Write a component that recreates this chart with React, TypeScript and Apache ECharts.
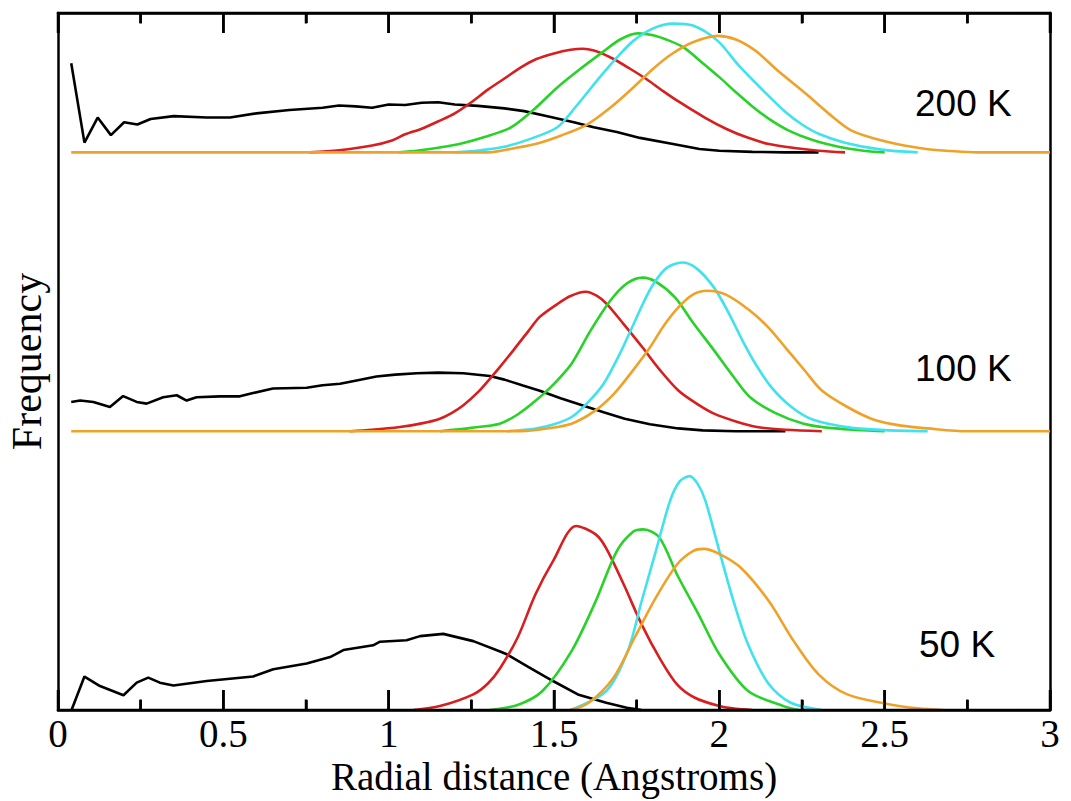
import React, { useEffect, useRef } from "react";
import * as echarts from "echarts";

// x ticks / axis range
const xTicks = [0, 0.5, 1, 1.5, 2, 2.5, 3];
const minorTickValues = [0.25, 0.75, 1.25, 1.75, 2.25, 2.75];
const panelLabels = ["50 K", "100 K", "200 K"];
const panelOffsets = [0, 1, 2];
const seriesNames = ["black", "red", "green", "cyan", "orange"];
const seriesColors = ["#000000", "#d81e1e", "#28d228", "#40e2ee", "#f0a228"];

// ---------- 200 K (heights above its own baseline) ----------
const black200 = [[0.04,0.32],[0.08,0.035],[0.12,0.125],[0.16,0.062],[0.2,0.108],[0.24,0.1],[0.28,0.12],[0.35,0.13],[0.45,0.125],[0.52,0.125],[0.6,0.14],[0.7,0.152],[0.8,0.16],[0.85,0.168],[0.9,0.165],[0.95,0.16],[1.0,0.172],[1.05,0.17],[1.1,0.178],[1.15,0.18],[1.2,0.172],[1.27,0.167],[1.35,0.158],[1.41,0.148],[1.48,0.13],[1.56,0.108],[1.62,0.09],[1.69,0.073],[1.76,0.052],[1.86,0.03],[1.94,0.012],[2.0,0.006],[2.1,0.002],[2.2,0],[2.3,0]];
const red200 = [[0.76,0],[0.85,0.008],[0.95,0.025],[1.01,0.043],[1.05,0.065],[1.1,0.085],[1.155,0.114],[1.2,0.14],[1.25,0.18],[1.3,0.225],[1.35,0.265],[1.4,0.305],[1.447,0.335],[1.5,0.355],[1.55,0.368],[1.587,0.372],[1.63,0.362],[1.68,0.335],[1.73,0.3],[1.778,0.264],[1.83,0.22],[1.88,0.18],[1.956,0.125],[2.02,0.085],[2.083,0.054],[2.15,0.03],[2.24,0.014],[2.3,0.006],[2.38,0]];
const green200 = [[1.03,0],[1.09,0.007],[1.15,0.017],[1.217,0.031],[1.29,0.055],[1.37,0.09],[1.44,0.155],[1.51,0.233],[1.58,0.3],[1.652,0.364],[1.7,0.405],[1.753,0.427],[1.8,0.42],[1.85,0.4],[1.893,0.376],[1.95,0.32],[2.0,0.27],[2.046,0.22],[2.1,0.165],[2.15,0.12],[2.21,0.078],[2.28,0.045],[2.364,0.019],[2.43,0.007],[2.5,0]];
const cyan200 = [[1.2,0],[1.28,0.008],[1.345,0.019],[1.42,0.045],[1.51,0.09],[1.57,0.17],[1.638,0.269],[1.69,0.34],[1.74,0.4],[1.8,0.445],[1.86,0.462],[1.92,0.455],[1.995,0.4],[2.06,0.31],[2.134,0.22],[2.2,0.145],[2.25,0.1],[2.3,0.067],[2.38,0.035],[2.49,0.01],[2.6,0]];
const orange200 = [[0.04,0],[1.3,0],[1.38,0.015],[1.447,0.031],[1.52,0.06],[1.6,0.1],[1.67,0.16],[1.74,0.233],[1.8,0.3],[1.855,0.352],[1.92,0.395],[1.995,0.418],[2.05,0.405],[2.11,0.364],[2.18,0.29],[2.262,0.21],[2.33,0.14],[2.4,0.078],[2.5,0.04],[2.62,0.013],[2.7,0.005],[2.78,0],[3.0,0]];

// ---------- 100 K ----------
const black100 = [[0.04,0.105],[0.067,0.11],[0.107,0.105],[0.157,0.087],[0.197,0.126],[0.238,0.105],[0.268,0.099],[0.318,0.122],[0.359,0.129],[0.389,0.11],[0.419,0.122],[0.49,0.125],[0.55,0.125],[0.59,0.137],[0.65,0.153],[0.752,0.156],[0.8,0.165],[0.853,0.17],[0.903,0.182],[0.963,0.196],[1.02,0.203],[1.085,0.208],[1.15,0.21],[1.226,0.208],[1.306,0.198],[1.35,0.185],[1.406,0.164],[1.457,0.145],[1.52,0.118],[1.585,0.093],[1.65,0.068],[1.714,0.045],[1.79,0.025],[1.876,0.01],[1.95,0.003],[2.05,0],[2.2,0]];
const red100 = [[0.883,0],[0.95,0.005],[1.034,0.015],[1.1,0.028],[1.155,0.045],[1.19,0.065],[1.226,0.093],[1.27,0.14],[1.306,0.188],[1.336,0.23],[1.377,0.29],[1.423,0.36],[1.457,0.41],[1.51,0.456],[1.55,0.485],[1.596,0.5],[1.63,0.485],[1.66,0.456],[1.71,0.385],[1.768,0.3],[1.82,0.22],[1.876,0.146],[1.93,0.1],[1.984,0.063],[2.05,0.035],[2.114,0.015],[2.2,0.005],[2.31,0]];
const green100 = [[1.155,0],[1.25,0.012],[1.336,0.027],[1.39,0.06],[1.445,0.11],[1.5,0.17],[1.553,0.242],[1.61,0.36],[1.67,0.468],[1.72,0.53],[1.768,0.551],[1.81,0.535],[1.866,0.48],[1.92,0.39],[1.984,0.29],[2.04,0.2],[2.093,0.122],[2.17,0.065],[2.255,0.027],[2.35,0.01],[2.5,0]];
const cyan100 = [[1.357,0],[1.445,0.01],[1.5,0.025],[1.553,0.051],[1.6,0.1],[1.65,0.17],[1.7,0.28],[1.736,0.372],[1.77,0.46],[1.8,0.527],[1.84,0.585],[1.887,0.605],[1.93,0.585],[1.984,0.515],[2.03,0.42],[2.07,0.325],[2.11,0.24],[2.157,0.158],[2.22,0.085],[2.286,0.04],[2.4,0.012],[2.5,0.004],[2.63,0]];
const orange100 = [[0.04,0],[1.4,0],[1.48,0.01],[1.553,0.027],[1.62,0.07],[1.682,0.135],[1.74,0.22],[1.79,0.3],[1.83,0.375],[1.876,0.444],[1.92,0.49],[1.963,0.504],[2.02,0.49],[2.093,0.432],[2.15,0.37],[2.2,0.3],[2.26,0.215],[2.31,0.146],[2.39,0.085],[2.47,0.04],[2.55,0.02],[2.63,0.01],[2.75,0],[3.0,0]];

// ---------- 50 K ----------
const black50 = [[0.041,0],[0.08,0.12],[0.127,0.086],[0.198,0.053],[0.238,0.098],[0.273,0.116],[0.308,0.098],[0.349,0.088],[0.45,0.104],[0.59,0.12],[0.651,0.146],[0.752,0.167],[0.823,0.19],[0.863,0.215],[0.953,0.232],[0.974,0.245],[1.054,0.25],[1.095,0.265],[1.165,0.273],[1.256,0.247],[1.337,0.21],[1.357,0.2],[1.422,0.155],[1.497,0.104],[1.572,0.056],[1.658,0.026],[1.72,0.008],[1.765,0]];
const red50 = [[1.075,0],[1.155,0.014],[1.256,0.056],[1.3,0.095],[1.337,0.15],[1.39,0.26],[1.444,0.415],[1.497,0.534],[1.567,0.66],[1.626,0.63],[1.658,0.58],[1.711,0.45],[1.765,0.307],[1.819,0.187],[1.872,0.092],[1.926,0.044],[2.0,0.014],[2.05,0.004],[2.1,0]];
const green50 = [[1.306,0],[1.39,0.018],[1.465,0.068],[1.553,0.211],[1.626,0.39],[1.69,0.57],[1.74,0.64],[1.77,0.648],[1.819,0.618],[1.872,0.486],[1.937,0.343],[2.0,0.2],[2.087,0.068],[2.194,0.014],[2.24,0]];
const cyan50 = [[1.55,0],[1.658,0.068],[1.723,0.211],[1.765,0.39],[1.808,0.57],[1.851,0.75],[1.88,0.82],[1.91,0.839],[1.935,0.81],[1.958,0.75],[2.0,0.57],[2.043,0.39],[2.087,0.235],[2.15,0.092],[2.216,0.026],[2.31,0]];
const orange50 = [[1.55,0],[1.605,0.026],[1.68,0.116],[1.744,0.26],[1.808,0.403],[1.872,0.522],[1.92,0.57],[1.953,0.578],[2.0,0.56],[2.065,0.51],[2.15,0.39],[2.225,0.247],[2.3,0.128],[2.387,0.056],[2.516,0.02],[2.6,0.006],[2.677,0]];

const panels = [
  [black50, red50, green50, cyan50, orange50],
  [black100, red100, green100, cyan100, orange100],
  [black200, red200, green200, cyan200, orange200],
];

const SERIF = "'Liberation Serif', 'Times New Roman', serif";
const SANS = "'Liberation Sans', Arial, sans-serif";
const Y_MAX = 2.5;
// tick lengths in y-axis units (plot is 697 px tall for 2.5 units)
const MAJOR_TICK = 0.072;
const MINOR_TICK = 0.038;

const labelGraphics: any[] = [
  { type: "text", x: 915, y: 103, z: 10, style: { text: panelLabels[2], fontFamily: SANS, fontSize: 37, fill: "#000", align: "left", verticalAlign: "middle" } },
  { type: "text", x: 915, y: 368, z: 10, style: { text: panelLabels[1], fontFamily: SANS, fontSize: 37, fill: "#000", align: "left", verticalAlign: "middle" } },
  { type: "text", x: 919, y: 644, z: 10, style: { text: panelLabels[0], fontFamily: SANS, fontSize: 37, fill: "#000", align: "left", verticalAlign: "middle" } },
];

export default function App() {
  const ref = useRef<HTMLDivElement>(null);
  useEffect(() => {
    if (!ref.current) return;
    const chart = echarts.init(ref.current, undefined, { renderer: "svg" });
    const series: any[] = [];

    panels.forEach((curves, p) => {
      curves.forEach((pts, i) => {
        series.push({
          name: seriesNames[i] + " " + panelLabels[p],
          type: "line",
          data: pts.map(([x, h]) => [x, h + panelOffsets[p]]),
          showSymbol: false,
          smooth: i === 0 ? false : 0.3,
          lineStyle: { color: seriesColors[i], width: 2.6 },
          itemStyle: { color: seriesColors[i] },
          z: 2 + i,
        });
      });
    });

    // tick marks as one "comb" polyline along each frame edge (runs along the edge,
    // rising into the plot at every tick position)
    const allTicks = [
      ...xTicks.map((v) => [v, MAJOR_TICK]),
      ...minorTickValues.map((v) => [v, MINOR_TICK]),
    ].sort((a, b) => a[0] - b[0]);
    const combBottom: number[][] = [];
    const combTop: number[][] = [];
    allTicks.forEach(([v, len]) => {
      combBottom.push([v, 0], [v, len], [v, 0]);
      combTop.push([v, Y_MAX], [v, Y_MAX - len], [v, Y_MAX]);
    });
    const combStyle = { color: "#000", width: 2.5, join: "miter" };
    series.push({ name: "ticks-bottom", type: "line", showSymbol: false, clip: false, z: 20, lineStyle: combStyle, data: combBottom });
    series.push({ name: "ticks-top", type: "line", showSymbol: false, clip: false, z: 20, lineStyle: combStyle, data: combTop });

    const axisLine = { show: true, onZero: false, lineStyle: { color: "#000", width: 2.5 } };
    const tickOpt = { show: true, inside: true, length: 20, lineStyle: { color: "#000", width: 2.5 } };
    const minorOpt = { show: true, splitNumber: 2, length: 10, lineStyle: { color: "#000", width: 2.5 } };
    chart.setOption({
      animation: false,
      backgroundColor: "#fff",
      grid: { left: 58, right: 21, top: 13, bottom: 91, outerBoundsMode: "none", containLabel: false },
      xAxis: [
        {
          type: "value",
          position: "bottom",
          min: xTicks[0],
          max: xTicks[xTicks.length - 1],
          interval: 0.5,
          axisLine,
          axisTick: tickOpt,
          minorTick: minorOpt,
          splitLine: { show: false },
          axisLabel: {
            show: true,
            margin: 8,
            fontFamily: SERIF,
            fontSize: 39,
            lineHeight: 30,
            color: "#000",
            formatter: (v: number) => String(v),
          },
          name: "Radial distance (Angstroms)",
          nameLocation: "middle",
          nameGap: 51,
          nameMoveOverlap: false,
          nameTextStyle: { fontFamily: SERIF, fontSize: 39, lineHeight: 30, color: "#000" },
        },
        {
          type: "value",
          position: "top",
          min: xTicks[0],
          max: xTicks[xTicks.length - 1],
          interval: 0.5,
          axisLine,
          axisTick: tickOpt,
          minorTick: minorOpt,
          splitLine: { show: false },
          axisLabel: { show: false },
        },
      ],
      yAxis: [
        {
          type: "value",
          position: "left",
          min: 0,
          max: Y_MAX,
          axisLine,
          axisTick: { show: false },
          axisLabel: { show: false },
          splitLine: { show: false },
          name: "Frequency",
          nameLocation: "middle",
          nameRotate: 90,
          nameGap: 10,
          nameMoveOverlap: false,
          nameTextStyle: { fontFamily: SERIF, fontSize: 42, color: "#000" },
        },
        {
          type: "value",
          position: "right",
          min: 0,
          max: Y_MAX,
          axisLine,
          axisTick: { show: false },
          axisLabel: { show: false },
          splitLine: { show: false },
        },
      ],
      graphic: labelGraphics,
      series,
    });

    return () => chart.dispose();
  }, []);
  return (
    <div
      ref={ref}
      style={{ position: "fixed", left: 0, top: 0, width: 1071, height: 801, background: "#fff" }}
    />
  );
}
